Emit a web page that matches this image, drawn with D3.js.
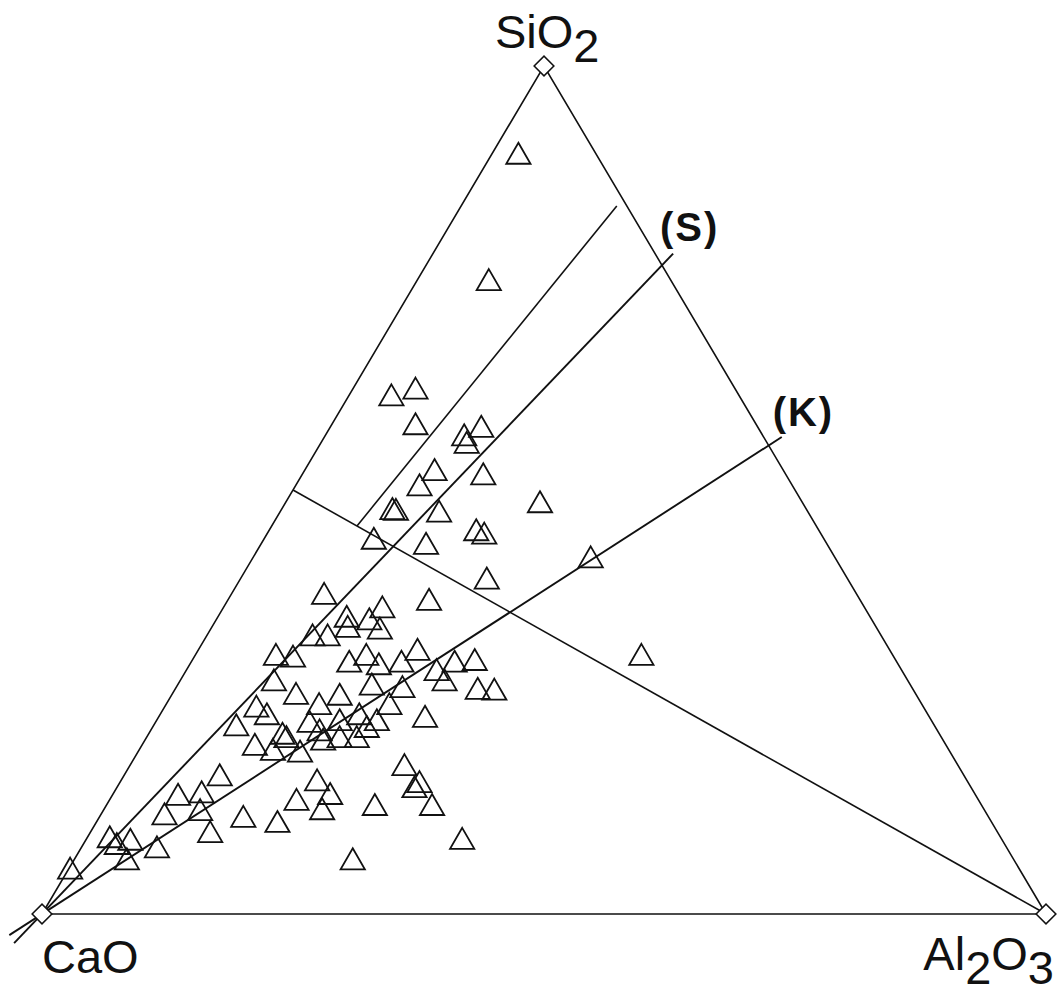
<!DOCTYPE html>
<html>
<head>
<meta charset="utf-8">
<script src="https://d3js.org/d3.v7.min.js"></script>
<style>
body{margin:0;background:#fff;}
text{font-family:"Liberation Sans",Arial,sans-serif;fill:#111;}
</style>
</head>
<body>
<script>
// sample compositions, wt% (CaO is the rest)
var sio2 = [89.3,74.4,60.8,61.6,57.4,56.1,57.1,55.2,52.0,50.2,51.5,48.2,47.4,47.3,47.1,44.9,44.5,43.9,43.3,39.2,
  41.7,30.2,37.4,36.7,34.7,35.8,34.4,33.5,32.5,32.5,33.3,30.2,30.0,29.4,30.2,29.1,29.4,30.8,28.4,29.4,
  29.6,27.2,26.2,26.1,27.2,25.6,24.4,25.5,26.7,26.4,24.4,22.9,24.1,23.2,21.9,20.9,21.3,22.5,23.2,21.7,
  22.5,20.5,19.0,20.2,20.5,20.5,16.0,13.7,14.0,11.4,11.9,9.3,11.1,10.5,13.1,15.4,13.8,12.0,12.5,17.2,
  15.2,14.6,12.5,8.5,6.1,8.4,7.5,6.1,7.9,5.0,8.7,18.8,19.6,22.3];
var al2o3 = [2.8,7.3,4.4,6.4,8.5,14.0,15.2,14.7,13.1,12.5,18.2,25.5,11.2,11.6,16.0,20.8,21.8,11.1,16.6,24.7,
  33.8,44.6,9.4,20.2,13.0,16.0,15.4,13.7,12.2,10.7,17.0,8.2,10.0,15.9,17.2,19.0,21.1,22.0,25.1,26.4,
  28.3,26.5,30.3,32.0,9.5,12.5,15.4,16.9,19.5,22.7,22.4,26.7,9.3,10.8,8.4,13.5,17.0,18.4,20.0,21.5,
  22.1,14.1,13.5,17.9,19.4,21.1,9.7,6.7,8.9,6.5,9.8,12.1,14.5,18.2,18.8,19.7,21.8,21.9,26.9,27.5,
  30.0,29.8,32.6,37.6,27.9,4.6,7.7,5.4,3.5,0.3,2.4,16.3,11.4,15.5];

// reference lines from the CaO corner, end point on / near the SiO2-Al2O3 side
var lineNames = ["", "(S)", "(K)"];
var lineSi = [83.5, 76.5, 55.25];
var lineAl = [15.5, 23.5, 44.75];

var W = 1058, H = 994;
var svg = d3.select("body").append("svg").attr("width", W).attr("height", H);

var x = d3.scaleLinear().domain([0, 1]).range([42, 1046]);
var y = d3.scaleLinear().domain([0, 1]).range([914, 66]);

// ternary -> screen
function px(s, a){ return x(a/100 + s/200); }
function py(s, a){ return y(s/100); }

var g = svg.append("g");
var lw = 1.6;

// triangle frame
var corners = [[0,0],[0,100],[100,0]]; // CaO, Al2O3, SiO2 as [si, al]
g.append("path")
  .attr("d", d3.line()(corners.map(c => [px(c[0],c[1]), py(c[0],c[1])])) + "Z")
  .attr("fill", "none").attr("stroke", "#111").attr("stroke-width", lw);

// median CaO = SiO2 to the Al2O3 corner
g.append("line")
  .attr("x1", px(50,0)).attr("y1", py(50,0))
  .attr("x2", px(0,100)).attr("y2", py(0,100))
  .attr("stroke", "#111").attr("stroke-width", lw);

// lines from CaO
lineSi.forEach(function(s, i){
  var a = lineAl[i];
  var x0 = px(0,0), y0 = py(0,0), x1 = px(s,a), y1 = py(s,a);
  var t0, t1;
  if (i === 0) {
    // only the part above the median (CaO = SiO2)
    t0 = 100 / (2*s + a);
    t1 = 1;
  } else {
    t0 = -0.045; t1 = 1.018;
  }
  g.append("line")
    .attr("x1", x0 + t0*(x1-x0)).attr("y1", y0 + t0*(y1-y0))
    .attr("x2", x0 + t1*(x1-x0)).attr("y2", y0 + t1*(y1-y0))
    .attr("stroke", "#111").attr("stroke-width", i === 0 ? lw : 1.9);
  if (lineNames[i]) {
    g.append("text").attr("x", x1 + (i === 1 ? -2 : 4)).attr("y", y1 - (i === 1 ? 24 : 19))
      .attr("font-size", 40).attr("font-weight", "bold").attr("letter-spacing", 2)
      .text(lineNames[i]);
  }
});

// corner markers
corners.forEach(function(c){
  g.append("rect")
    .attr("x", -7).attr("y", -7).attr("width", 14).attr("height", 14)
    .attr("transform", "translate(" + px(c[0],c[1]) + "," + py(c[0],c[1]) + ") rotate(45)")
    .attr("fill", "#fff").attr("stroke", "#111").attr("stroke-width", 1.5);
});

// samples
var tri = d3.symbol().type(d3.symbolTriangle).size(255);
g.append("g").selectAll("path")
  .data(sio2.map((s, i) => ({s: s, a: al2o3[i]})))
  .enter().append("path")
  .attr("d", tri)
  .attr("transform", d => "translate(" + px(d.s, d.a) + "," + py(d.s, d.a) + ")")
  .attr("fill", "none").attr("stroke", "#111").attr("stroke-width", 1.8);

// corner labels
function label(xp, yp, parts, anchor){
  var t = svg.append("text").attr("x", xp).attr("y", yp).attr("font-size", 47)
    .attr("text-anchor", anchor);
  var prev = false;
  parts.forEach(function(p){
    var sub = /^\d$/.test(p);
    t.append("tspan").attr("dy", sub ? 14 : (prev ? -14 : 0)).text(p);
    prev = sub;
  });
}
label(495, 48, ["SiO", "2"], "start");
label(42, 973, ["CaO"], "start");
label(1054, 970, ["Al", "2", "O", "3"], "end");
</script>
</body>
</html>
